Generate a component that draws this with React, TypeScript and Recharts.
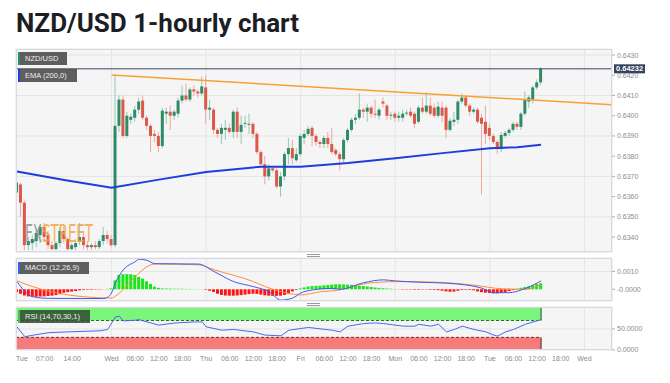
import React from 'react';
import {
  ComposedChart,
  Bar,
  Line,
  XAxis,
  YAxis,
  CartesianGrid,
  ReferenceLine,
  ReferenceArea,
  Cell,
} from 'recharts';

type Ohlc = [number, number, number, number]; // open, high, low, close

// hourly candles, one array per session day
const TUE_1: Ohlc[] = [
  [0.6362, 0.6369, 0.6359, 0.6367], [0.6366, 0.6367, 0.635, 0.6357], [0.6357, 0.6358, 0.63335, 0.6336],
  [0.6336, 0.634, 0.63335, 0.6338], [0.6337, 0.6341, 0.63335, 0.6339], [0.6338, 0.6344, 0.6335, 0.6342],
  [0.6341, 0.6346, 0.6337, 0.6345], [0.6345, 0.6347, 0.6338, 0.634], [0.6341, 0.6343, 0.6334, 0.6336],
  [0.6336, 0.6338, 0.63335, 0.6334], [0.6334, 0.6338, 0.63335, 0.6337], [0.6337, 0.6345, 0.6335, 0.6343],
  [0.6343, 0.6345, 0.6337, 0.6339], [0.6339, 0.634, 0.63335, 0.6334], [0.6334, 0.6337, 0.63335, 0.6336],
  [0.6335, 0.6339, 0.63335, 0.6337], [0.6338, 0.6347, 0.6336, 0.634], [0.634, 0.6343, 0.6334, 0.6336],
  [0.6336, 0.6338, 0.63335, 0.6335], [0.6335, 0.6337, 0.63335, 0.6336], [0.6336, 0.6338, 0.6334, 0.6335],
  [0.6335, 0.6339, 0.6334, 0.6338], [0.6338, 0.6345, 0.6336, 0.6341], [0.6341, 0.6343, 0.6337, 0.6339],
];
const WED: Ohlc[] = [
  [0.6339, 0.6341, 0.6335, 0.6336], [0.6336, 0.642, 0.6335, 0.6395], [0.6395, 0.641, 0.6392, 0.6408],
  [0.6408, 0.641, 0.6389, 0.639], [0.639, 0.6402, 0.6389, 0.64], [0.6398, 0.6401, 0.6396, 0.63995],
  [0.6399, 0.6405, 0.6397, 0.6403], [0.6403, 0.6409, 0.6401, 0.6407], [0.64075, 0.641, 0.6398, 0.6399],
  [0.6399, 0.64, 0.6393, 0.6395], [0.6395, 0.6396, 0.6382, 0.639], [0.6391, 0.6393, 0.6387, 0.639],
  [0.639, 0.6392, 0.6382, 0.6385], [0.6385, 0.6404, 0.6384, 0.64025], [0.6401, 0.6404, 0.6396, 0.6402],
  [0.6402, 0.6405, 0.6393, 0.64], [0.64, 0.6403, 0.6398, 0.6402], [0.6401, 0.6409, 0.6399, 0.64075],
  [0.64075, 0.6415, 0.6406, 0.641], [0.641, 0.6416, 0.6407, 0.6408], [0.6408, 0.6414, 0.6407, 0.6413],
  [0.6413, 0.6415, 0.641, 0.6412], [0.6412, 0.6413, 0.6409, 0.6411], [0.6411, 0.64195, 0.641, 0.64145],
];
const THU: Ohlc[] = [
  [0.6414, 0.642, 0.6396, 0.6403], [0.6403, 0.6408, 0.6398, 0.6404], [0.6403, 0.6404, 0.6391, 0.6393],
  [0.6393, 0.6394, 0.6389, 0.6391], [0.6391, 0.6396, 0.6386, 0.6394], [0.6393, 0.6398, 0.6388, 0.6394],
  [0.6394, 0.6396, 0.6391, 0.6392], [0.6392, 0.6403, 0.6389, 0.6402], [0.6402, 0.6404, 0.6389, 0.6392],
  [0.6392, 0.64, 0.6386, 0.63955], [0.6396, 0.64, 0.6394, 0.63965], [0.6396, 0.6401, 0.6391, 0.6396],
  [0.6396, 0.6397, 0.6389, 0.6391], [0.6391, 0.6392, 0.6381, 0.6382], [0.6382, 0.6383, 0.6375, 0.6376],
  [0.6376, 0.638, 0.6366, 0.637], [0.637, 0.6376, 0.6368, 0.6374], [0.6374, 0.6375, 0.6372, 0.6373],
  [0.6373, 0.6374, 0.6364, 0.6365], [0.6365, 0.6372, 0.636, 0.637], [0.637, 0.6382, 0.6368, 0.6381],
  [0.6381, 0.6389, 0.6376, 0.6384], [0.6384, 0.6388, 0.6376, 0.6379], [0.6378, 0.6384, 0.6377, 0.6381],
];
const FRI: Ohlc[] = [
  [0.6381, 0.6391, 0.638, 0.639], [0.6389, 0.6393, 0.6386, 0.6391], [0.6391, 0.6395, 0.639, 0.63935],
  [0.6394, 0.6395, 0.6385, 0.639], [0.639, 0.6391, 0.6385, 0.6387], [0.6387, 0.6388, 0.6384, 0.6386],
  [0.6386, 0.639, 0.6384, 0.6389], [0.6389, 0.6392, 0.6384, 0.6386], [0.6386, 0.6394, 0.6381, 0.6382],
  [0.6383, 0.6384, 0.638, 0.6381], [0.6381, 0.6382, 0.6373, 0.63785], [0.63785, 0.6389, 0.6377, 0.6388],
  [0.6388, 0.6394, 0.6387, 0.6393], [0.6393, 0.6399, 0.6392, 0.6398], [0.6398, 0.6401, 0.6396, 0.6399],
  [0.6399, 0.6411, 0.6398, 0.6403], [0.6403, 0.6404, 0.6399, 0.6402], [0.6402, 0.6406, 0.6397, 0.6404],
  [0.6404, 0.6405, 0.6399, 0.6401], [0.6401, 0.6408, 0.6399, 0.64005], [0.64, 0.6404, 0.6398, 0.6403],
  [0.6407, 0.6409, 0.6404, 0.6406], [0.6405, 0.6406, 0.6398, 0.64], [0.64, 0.6402, 0.6398, 0.64005],
];
const MON: Ohlc[] = [
  [0.6401, 0.6402, 0.6397, 0.6399], [0.6399, 0.6402, 0.6397, 0.64], [0.6399, 0.6403, 0.6397, 0.6401],
  [0.6401, 0.6403, 0.64, 0.64015], [0.6402, 0.6404, 0.6399, 0.64], [0.6401, 0.6402, 0.6394, 0.6396],
  [0.6397, 0.6405, 0.6396, 0.6404], [0.6404, 0.6409, 0.6401, 0.6402], [0.6402, 0.64115, 0.6401, 0.6405],
  [0.6405, 0.6409, 0.64, 0.6401], [0.6404, 0.6406, 0.6399, 0.64], [0.64, 0.6407, 0.6399, 0.64045],
  [0.6404, 0.6407, 0.6397, 0.64], [0.6404, 0.6405, 0.6389, 0.6393], [0.6393, 0.6399, 0.6392, 0.63975],
  [0.6397, 0.6402, 0.6395, 0.6398], [0.6398, 0.6408, 0.6396, 0.6407], [0.6407, 0.6411, 0.6406, 0.6409],
  [0.6409, 0.641, 0.6404, 0.6405], [0.6405, 0.6406, 0.64, 0.6402], [0.6402, 0.6404, 0.6401, 0.6403],
  [0.6403, 0.6404, 0.6396, 0.6397], [0.6399, 0.6401, 0.6361, 0.6396], [0.6397, 0.6405, 0.6386, 0.6391],
];
const TUE_2: Ohlc[] = [
  [0.6394, 0.6396, 0.6388, 0.639], [0.639, 0.6391, 0.6386, 0.6387], [0.6387, 0.6388, 0.6381, 0.63835],
  [0.63835, 0.6392, 0.6382, 0.63905], [0.639, 0.63925, 0.6389, 0.63915], [0.63915, 0.6394, 0.639, 0.6393],
  [0.6393, 0.6397, 0.6392, 0.6396], [0.6396, 0.6397, 0.6393, 0.63945], [0.63945, 0.6402, 0.6393, 0.6401],
  [0.6401, 0.6412, 0.64, 0.6408], [0.6407, 0.641, 0.6404, 0.6409], [0.6408, 0.6415, 0.6406, 0.6414],
  [0.6414, 0.6418, 0.6413, 0.64165], [0.64165, 0.6424, 0.6415, 0.64232],
];

// [hour index, value]
const EMA_200: [number, number][] = [
  [0, 0.63724], [12, 0.63682], [24, 0.63644], [36, 0.63684], [48, 0.63722], [62, 0.63748],
  [72, 0.63748], [84, 0.63766], [96, 0.6379], [108, 0.63815], [120, 0.63839], [127, 0.63844], [133, 0.63856],
];
const TRENDLINE: [number, number][] = [[24, 0.64202], [151, 0.64054]];
const LAST_PRICE = 0.64232;

// MACD (12,26,9), values in 1e-4
const MACD_HIST_E4 = [
  -1.5, -2.5, -3.5, -4, -4.2, -4.2, -4.1, -4, -3.8, -3.6, -3.3, -2.8, -2, -1.6, -1.3, -1, -0.6, -0.4, -0.3, -0.3, -0.2, -0.2, -0.1, 0.2,
  0.5, 5, 8, 8.5, 8.5, 8.5, 8, 7, 6, 4.5, 3, 1.5, 0.8, 0.5, 0.4, 0.4, 0.3, 0.3, 0.3, 0.2, 0.2, 0.1, 0.1, 0.1,
  -0.3, -0.8, -1.5, -2.5, -3.2, -3.5, -3.6, -3.6, -3.5, -3.3, -3, -2.7, -2.5, -2.6, -3, -3.4, -3.6, -3.7, -3.7, -3.6, -3.2, -2.5, -1.2, -0.4,
  0.5, 1, 1.5, 1.8, 1.9, 2, 2.2, 2.4, 2.6, 2.8, 2.8, 2.7, 2.6, 2.5, 2.3, 2, 1.8, 1.6, 1.3, 1, 0.8, 0.6, 0.4, 0.3,
  -0.1, -0.1, -0.2, -0.2, -0.2, -0.3, -0.3, -0.2, -0.2, -0.3, -0.4, -0.5, -0.8, -1.2, -1.4, -1.3, -0.8, -0.4, -0.3, -0.4, -0.6, -1.2, -1.6, -1.9,
  -2.1, -2.3, -2.3, -2.1, -1.6, -1, -0.5, 0.3, 0.8, 1.3, 1.8, 2.3, 2.9, 3.4,
];
const MACD_LINE_E4: [number, number][] = [
  [0, 4.3], [4, -4.2], [8, -5.1], [16, -5.2], [22, -5.2], [23, -4.5], [24, -2], [25, 3.6], [27, 11], [30, 15.5],
  [31, 16.9], [33, 16.3], [35, 14.4], [46, 14.2], [50, 10], [55, 4.3], [60, 1.5], [64, -1.4], [67, -6.1], [70, -4.9],
  [72, -2.1], [75, -0.4], [80, 0.5], [82, 0], [88, 3.7], [93, 5.3], [96, 4.7], [102, 4], [109, 3.4], [114, 2.4],
  [118, 0.6], [121, -1.9], [125, -1.9], [128, -0.4], [133, 4.7],
];
const SIGNAL_E4: [number, number][] = [
  [0, 4.7], [4, 1.5], [13, -3.2], [24, -4.9], [25, -3.8], [30, 7], [33, 12.7], [35, 14.2], [46, 13.8], [50, 11],
  [60, 4.3], [63, 1.5], [69, -2.3], [72, -3.2], [77, -1.4], [81, -0.7], [89, 3.4], [96, 4.3], [106, 4], [116, 2.3],
  [123, 0.3], [129, 0], [133, 2.8],
];

// RSI (14)
const RSI: [number, number][] = [
  [0, 55], [2, 31.5], [4, 35], [8, 41], [13, 43], [21, 45.5], [23, 48.5], [25, 78.5], [26, 80], [27, 69],
  [30, 70.6], [31, 72], [33, 66.6], [36, 59], [40, 64], [45, 66.6], [47, 66.6], [48, 55], [52, 47], [55, 48.7],
  [60, 43], [63, 35.3], [67, 33.6], [69, 47], [72, 51], [74, 53.4], [80, 47], [82, 43], [84, 56.5], [88, 62.8],
  [91, 64.2], [93, 62.8], [98, 56.5], [101, 56.5], [102, 61], [105, 56.5], [107, 61], [109, 43], [111, 48.7],
  [113, 56.5], [116, 48.7], [119, 43], [121, 35.3], [122, 33], [124, 43], [126, 48.7], [129, 61], [131, 66.6], [133, 72],
];

const PRICE_TICKS = [0.634, 0.635, 0.636, 0.637, 0.638, 0.639, 0.64, 0.641, 0.642, 0.643];
const DAY_TICKS = [24, 48, 72, 96, 120, 144];
const X_TICKS = [0, 7, 14, 24, 30, 36, 42, 48, 54, 60, 66, 72, 78, 84, 90, 96, 102, 108, 114, 120, 126, 132, 138, 144];
const X_LABELS = [
  'Tue', '07:00', '14:00', 'Wed', '06:00', '12:00', '18:00', 'Thu', '06:00', '12:00', '18:00', 'Fri',
  '06:00', '12:00', '18:00', 'Mon', '06:00', '12:00', '18:00', 'Tue', '06:00', '12:00', '18:00', 'Wed',
];

const W = 670;
const H = 383;
const X_DOMAIN: [number, number] = [-0.25, 151];
const FONT = '"Liberation Sans", Arial, sans-serif';
const tickStyle = { fontSize: 7, fill: '#8a8a8a', fontFamily: FONT };

const candles = [...TUE_1, ...WED, ...THU, ...FRI, ...MON, ...TUE_2].map(([o, hi, lo, c], t) => ({ t, o, hi, lo, c }));
const LAST_T = candles.length - 1;
const emaData = EMA_200.map(([t, v]) => ({ t, v }));
const histData = MACD_HIST_E4.map((v, t) => ({ t, v: v * 1e-4 }));
const macdData = MACD_LINE_E4.map(([t, v]) => ({ t, v: v * 1e-4 }));
const signalData = SIGNAL_E4.map(([t, v]) => ({ t, v: v * 1e-4 }));
const rsiData = RSI.map(([t, v]) => ({ t, v }));

const Candle = (props: any) => {
  const { x, y, width, height, payload } = props;
  if (!payload || x == null) return null;
  let top = y;
  let hgt = height;
  if (hgt < 0) {
    top = y + hgt;
    hgt = -hgt;
  }
  const { o, hi, lo, c } = payload;
  const k = hi > lo ? hgt / (hi - lo) : 0;
  const bTop = top + (hi - Math.max(o, c)) * k;
  const bBot = top + (hi - Math.min(o, c)) * k;
  const up = c >= o;
  const cx = x + width / 2;
  return (
    <g>
      <line x1={cx} x2={cx} y1={top} y2={top + hgt} stroke={up ? '#93c9b4' : '#eda7a0'} strokeWidth={1} />
      <rect x={x} y={bTop} width={width} height={Math.max(1, bBot - bTop)} fill={up ? '#2f8a68' : '#dc5947'} />
    </g>
  );
};

const PriceTag = (props: any) => {
  const vb = props.viewBox;
  if (!vb) return null;
  const x = vb.x + vb.width + 2;
  return (
    <g>
      <rect x={x} y={vb.y - 4.5} width={31} height={9} fill="#34425f" />
      <text x={x + 2} y={vb.y + 2.6} fontSize={7.5} fontWeight={700} fill="#ffffff" fontFamily={FONT}>
        {LAST_PRICE.toFixed(5)}
      </text>
    </g>
  );
};

const TimeTick = (props: any) => {
  const { x, y, payload, index } = props;
  const label = X_LABELS[X_TICKS.indexOf(payload.value)];
  return (
    <text
      x={index === 0 ? x - 1 : x}
      y={y}
      dy="0.71em"
      textAnchor={index === 0 ? 'start' : 'middle'}
      {...tickStyle}
    >
      {label}
    </text>
  );
};

const boxStyle: React.CSSProperties = {
  position: 'absolute',
  height: 13,
  lineHeight: '13px',
  fontSize: 7.5,
  fontFamily: FONT,
  color: '#eeeeee',
  background: 'rgba(78,78,78,0.9)',
  paddingLeft: 5,
  boxSizing: 'border-box',
};
const frame = (top: number, height: number): React.CSSProperties => ({
  position: 'absolute',
  left: 16,
  top,
  width: 596,
  height,
  border: '1px solid #d6dae4',
  boxSizing: 'border-box',
  pointerEvents: 'none',
});
const handle = (top: number): React.CSSProperties => ({
  position: 'absolute',
  left: 307,
  top,
  width: 13,
  height: 3,
  borderTop: '1px solid #9a9a9a',
  borderBottom: '1px solid #9a9a9a',
  boxSizing: 'border-box',
});
const layer: React.CSSProperties = { position: 'absolute', left: 0, top: 0 };

export default function App() {
  return (
    <div style={{ position: 'absolute', left: 0, top: 0, width: W, height: H, background: '#ffffff', overflow: 'hidden' }}>
      <div
        style={{
          position: 'absolute',
          left: 16,
          top: 10,
          fontFamily: 'Roboto, sans-serif',
          fontWeight: 700,
          fontSize: 26,
          lineHeight: '26px',
          color: '#1d1d25',
          whiteSpace: 'nowrap',
        }}
      >
        NZD/USD 1-hourly chart
      </div>

      {/* price panel */}
      <div style={layer}>
        <ComposedChart width={W} height={H} data={candles} margin={{ top: 49, right: 0, bottom: 131, left: 16 }}>
          <CartesianGrid xAxisId="x" yAxisId="y" fill="#f5f5f5" stroke="#e4e4e4" />
          <XAxis xAxisId="x" dataKey="t" type="number" domain={X_DOMAIN} ticks={DAY_TICKS} allowDataOverflow hide />
          <YAxis
            yAxisId="y"
            orientation="right"
            width={58}
            type="number"
            domain={[0.63326, 0.6433]}
            allowDataOverflow
            ticks={PRICE_TICKS}
            tickFormatter={(v: number) => v.toFixed(4)}
            tick={tickStyle}
            tickSize={3}
            tickMargin={2}
            tickLine={{ stroke: '#b0b0b0' }}
            axisLine={false}
          />
          <Bar
            xAxisId="x"
            yAxisId="y"
            dataKey={(d: any) => [d.lo, d.hi]}
            barSize={3}
            shape={<Candle />}
            isAnimationActive={false}
          />
          <Line
            xAxisId="x"
            yAxisId="y"
            data={emaData}
            dataKey="v"
            type="linear"
            stroke="#1f3ddc"
            strokeWidth={2}
            dot={false}
            isAnimationActive={false}
          />
          <ReferenceLine
            xAxisId="x"
            yAxisId="y"
            segment={TRENDLINE.map(([x, y]) => ({ x, y }))}
            stroke="#f7a035"
            strokeWidth={1.5}
          />
          <ReferenceLine xAxisId="x" yAxisId="y" y={LAST_PRICE} stroke="#3a4664" strokeWidth={1} label={(p: any) => <PriceTag {...p} />} />
        </ComposedChart>
      </div>

      {/* MACD panel */}
      <div style={layer}>
        <ComposedChart width={W} height={H} data={histData} margin={{ top: 258, right: 0, bottom: 82, left: 16 }}>
          <CartesianGrid xAxisId="x" yAxisId="y" fill="#f5f5f5" stroke="#e4e4e4" />
          <XAxis xAxisId="x" dataKey="t" type="number" domain={X_DOMAIN} ticks={DAY_TICKS} allowDataOverflow hide />
          <YAxis
            yAxisId="y"
            orientation="right"
            width={58}
            type="number"
            domain={[-0.00066, 0.00176]}
            allowDataOverflow
            ticks={[0, 0.001]}
            tickFormatter={(v: number) => (v === 0 ? '-0.0000' : v.toFixed(4))}
            tick={tickStyle}
            tickSize={3}
            tickMargin={2}
            tickLine={{ stroke: '#b0b0b0' }}
            axisLine={false}
          />
          <Bar xAxisId="x" yAxisId="y" dataKey="v" barSize={3} isAnimationActive={false}>
            {histData.map((d, i) => (
              <Cell key={i} fill={d.v >= 0 ? '#17e617' : '#ff1414'} />
            ))}
          </Bar>
          <Line xAxisId="x" yAxisId="y" data={signalData} dataKey="v" type="monotone" stroke="#ff8c42" strokeWidth={1} dot={false} isAnimationActive={false} />
          <Line xAxisId="x" yAxisId="y" data={macdData} dataKey="v" type="monotone" stroke="#3e5cf0" strokeWidth={1} dot={false} isAnimationActive={false} />
        </ComposedChart>
      </div>

      {/* RSI panel */}
      <div style={layer}>
        <ComposedChart width={W} height={H} data={rsiData} margin={{ top: 307, right: 0, bottom: 13, left: 16 }}>
          <CartesianGrid xAxisId="x" yAxisId="y" fill="#f5f5f5" stroke="#e4e4e4" />
          <XAxis xAxisId="x" dataKey="t" type="number" domain={X_DOMAIN} ticks={DAY_TICKS} allowDataOverflow hide />
          <XAxis
            xAxisId="lbl"
            dataKey="t"
            type="number"
            domain={X_DOMAIN}
            allowDataOverflow
            ticks={X_TICKS}
            interval={0}
            height={20}
            tick={<TimeTick />}
            tickSize={4}
            tickMargin={2}
            tickLine={false}
            axisLine={false}
          />
          <YAxis
            yAxisId="y"
            orientation="right"
            width={58}
            type="number"
            domain={[0, 102]}
            allowDataOverflow
            ticks={[0, 50]}
            tickFormatter={(v: number) => v.toFixed(4)}
            tick={tickStyle}
            tickSize={3}
            tickMargin={2}
            tickLine={{ stroke: '#b0b0b0' }}
            axisLine={false}
          />
          <ReferenceArea xAxisId="x" yAxisId="y" x1={X_DOMAIN[0]} x2={LAST_T} y1={70} y2={100} fill="#7cf57c" fillOpacity={1} stroke="none" />
          <ReferenceArea xAxisId="x" yAxisId="y" x1={X_DOMAIN[0]} x2={LAST_T} y1={0} y2={30} fill="#f77b7b" fillOpacity={1} stroke="none" />
          <ReferenceLine xAxisId="x" yAxisId="y" segment={[{ x: X_DOMAIN[0], y: 70 }, { x: LAST_T, y: 70 }]} stroke="#2c6b2c" strokeDasharray="3 2" />
          <ReferenceLine xAxisId="x" yAxisId="y" segment={[{ x: X_DOMAIN[0], y: 30 }, { x: LAST_T, y: 30 }]} stroke="#7a2c2c" strokeDasharray="3 2" />
          <ReferenceLine xAxisId="x" yAxisId="y" segment={[{ x: LAST_T, y: 70 }, { x: LAST_T, y: 100 }]} stroke="#1f4d1f" />
          <ReferenceLine xAxisId="x" yAxisId="y" segment={[{ x: LAST_T, y: 0 }, { x: LAST_T, y: 30 }]} stroke="#5a1f1f" />
          <Line xAxisId="x" yAxisId="y" dataKey="v" type="linear" stroke="#4a68ee" strokeWidth={1} dot={false} isAnimationActive={false} />
        </ComposedChart>
      </div>

      {/* panel frames, legend boxes, handles, watermark */}
      <div style={frame(49, 203)} />
      <div style={frame(258, 43)} />
      <div style={frame(307, 43)} />
      <div style={handle(254)} />
      <div style={handle(303)} />

      <div style={{ ...boxStyle, left: 18, top: 52, width: 49, borderLeft: '2px solid #2f8a68' }}>NZD/USD</div>
      <div style={{ ...boxStyle, left: 18, top: 69, width: 59, borderLeft: '2px solid #1f3ddc' }}>EMA (200,0)</div>
      <div style={{ ...boxStyle, left: 18, top: 262, width: 71, height: 12, lineHeight: '12px', borderLeft: '2px solid #3e5cf0' }}>
        MACD (12,26,9)
      </div>
      <div
        style={{
          ...boxStyle,
          left: 18,
          top: 310,
          width: 72,
          background: 'rgba(50,78,50,0.88)',
          borderLeft: '2px solid #4fbf4f',
        }}
      >
        RSI (14,70,30,1)
      </div>

      <svg style={{ position: 'absolute', left: 22, top: 216, opacity: 0.8, pointerEvents: 'none' }} width={90} height={32}>
        <text
          x={3}
          y={26}
          fontSize={25}
          fontFamily='"DejaVu Sans Condensed", "Liberation Sans Narrow", sans-serif'
          textLength={68}
          lengthAdjust="spacingAndGlyphs"
        >
          <tspan fill="#8c8c8c">FX</tspan>
          <tspan fill="#f2a23c">STREET</tspan>
        </text>
      </svg>
    </div>
  );
}
